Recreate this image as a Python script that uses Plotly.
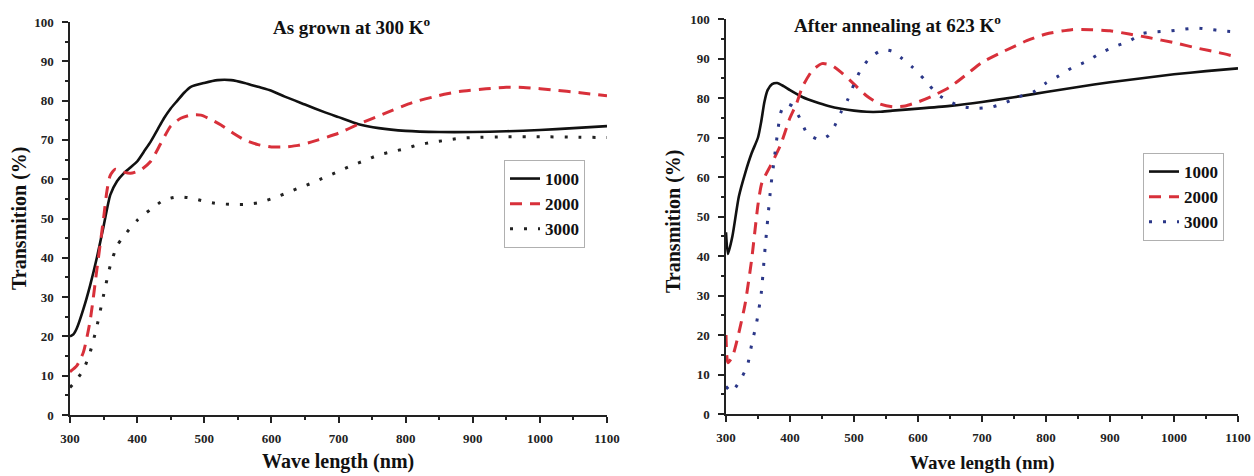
import plotly.graph_objects as go

# ---------------- data: As grown at 300 K ----------------
a_x_1000 = [300, 305, 310, 320, 330, 340, 350, 360, 370, 380, 390, 400, 410, 420, 430, 440, 450, 460, 470, 480,
            500, 520, 540, 560, 580, 600, 620, 650, 680, 700, 730, 760, 800, 850, 900, 950, 1000, 1050, 1100]
a_y_1000 = [20, 20.5, 22, 27, 33, 40, 48, 56, 59.5, 61.5, 63, 64.5, 67, 69.5, 72.5, 75.5, 78, 80, 82, 83.5,
            84.5, 85.2, 85.2, 84.5, 83.5, 82.5, 81, 79, 77, 75.8, 74, 73, 72.3, 72, 72, 72.2, 72.5, 73, 73.5]

a_x_2000 = [300, 310, 320, 330, 340, 350, 355, 360, 367, 375, 390, 405, 420, 435, 450, 465, 480, 495, 510, 525,
            545, 560, 580, 600, 620, 640, 660, 700, 730, 770, 810, 850, 880, 920, 950, 980, 1020, 1060, 1100]
a_y_2000 = [11, 12.5, 16, 24, 37, 50, 57, 61, 62.5, 62, 61.5, 62.3, 64.5, 69, 73.5, 75.5, 76.3, 76.3, 75.2, 73.8,
            71.5, 70, 68.8, 68.2, 68.2, 68.6, 69.5, 71.7, 74, 76.8, 79.5, 81.3, 82.3, 83, 83.4, 83.3, 82.7, 82, 81.2]

a_x_3000 = [300, 310, 320, 330, 340, 350, 360, 370, 380, 400, 420, 440, 460, 480, 500, 520, 540, 560, 580, 600,
            620, 640, 660, 680, 700, 720, 740, 760, 780, 800, 820, 840, 860, 880, 900, 950, 1000, 1050, 1100]
a_y_3000 = [7, 9, 11.5, 16, 22.5, 30.5, 38, 43, 45.5, 49.5, 52.3, 54.7, 55.5, 55.2, 54.4, 53.8, 53.6, 53.6, 54, 55,
            56.3, 57.7, 59, 60.5, 62, 63.5, 64.8, 66.2, 67, 67.8, 68.8, 69.4, 69.9, 70.4, 70.6, 70.8, 70.8, 70.7, 70.6]

# ---------------- data: After annealing at 623 K ----------------
b_x_1000 = [300, 303, 310, 320, 330, 340, 350, 355, 360, 365, 372, 380, 390, 400, 420, 440, 460, 480, 500, 520,
            540, 560, 600, 650, 700, 750, 800, 850, 900, 950, 1000, 1050, 1100]
b_y_1000 = [46, 40.5, 45, 55, 61, 66, 70, 74, 79, 82, 83.5, 83.8, 83, 82, 80.2, 79, 78, 77.3, 76.8, 76.5,
            76.5, 76.8, 77.3, 78, 79, 80.2, 81.5, 82.8, 84, 85, 86, 86.8, 87.5]

b_x_2000 = [300, 303, 310, 320, 330, 340, 350, 356, 370, 385, 400, 410, 420, 435, 450, 465, 480, 500, 520, 540,
            560, 580, 600, 620, 650, 680, 700, 730, 770, 800, 840, 870, 900, 930, 960, 1000, 1040, 1070, 1100]
b_y_2000 = [20, 13, 14.5, 20.5, 28, 39, 53, 58.5, 63, 68, 75, 78.5, 83, 87, 88.7, 88.3, 86.5, 83.5, 80.5, 78.5,
            77.8, 78, 79, 80.3, 82.8, 86.5, 89, 91.5, 94.5, 96.2, 97.3, 97.3, 97, 96.2, 95.3, 94, 92.5, 91.5, 90.3]

b_x_3000 = [300, 309, 320, 333, 340, 348, 355, 360, 365, 370, 375, 380, 385, 390, 397, 405, 415, 427, 447, 460,
            470, 480, 490, 500, 510, 525, 545, 560, 575, 590, 610, 630, 650, 670, 695, 715, 735, 755, 780, 800,
            820, 840, 865, 885, 910, 930, 950, 970, 995, 1015, 1035, 1055, 1075, 1100]
b_y_3000 = [7, 5.6, 8, 12, 17.5, 23.3, 30.5, 40, 49, 57.5, 64, 70.5, 76, 78, 78.5, 77.8, 75, 71, 69.4, 70.5,
            73, 76.5, 79.5, 83.5, 87, 90.2, 92.2, 91.8, 90, 88, 84.7, 81, 79, 77.8, 77.4, 77.7, 78.7, 80.2, 81.5, 83.8,
            85.6, 87.6, 89.4, 91.4, 93.2, 94.4, 96.3, 96.7, 97, 97.4, 97.7, 97.4, 97, 96.7]

series_names = ["1000", "2000", "3000"]
x_ticks = [300, 400, 500, 600, 700, 800, 900, 1000, 1100]
y_ticks = [0, 10, 20, 30, 40, 50, 60, 70, 80, 90, 100]
titles = ["As grown at 300 K<sup>o</sup>", "After annealing at 623 K<sup>o</sup>"]

SERIF = "Liberation Serif, Times New Roman, serif"
RED = "#d8303a"

fig = go.Figure()

def add_panel(xs, ys, xa, ya, legend, dot_color):
    styles = [dict(color="#111111", width=2.6, dash="solid"),
              dict(color=RED, width=3, dash="12px,8px"),
              dict(color=dot_color, width=3, dash="3px,11px")]
    for name, x, y, st in zip(series_names, xs, ys, styles):
        fig.add_trace(go.Scatter(x=x, y=y, mode="lines", name=name, line=dict(shape="spline", smoothing=0.6, **st),
                                 xaxis=xa, yaxis=ya, legend=legend))

add_panel([a_x_1000, a_x_2000, a_x_3000], [a_y_1000, a_y_2000, a_y_3000], "x", "y", "legend", "#222222")
add_panel([b_x_1000, b_x_2000, b_x_3000], [b_y_1000, b_y_2000, b_y_3000], "x2", "y2", "legend2", "#2b3788")

W, H = 1254, 476

def xaxis(domain, anchor):
    return dict(domain=domain, anchor=anchor, range=[300, 1100], tickvals=x_ticks, ticks="outside", ticklen=6,
                tickwidth=1.5, tickcolor="#222", showline=True, linecolor="#222", linewidth=1.5, showgrid=False,
                zeroline=False, automargin=False, ticklabelstandoff=5,
                tickfont=dict(family=SERIF, size=13, color="#222", weight="bold"),
                minor=dict(tickvals=[350, 450, 550, 650, 750, 850, 950, 1050], ticks="outside", ticklen=3,
                           tickcolor="#222", showgrid=False))

def yaxis(domain, anchor):
    return dict(domain=domain, anchor=anchor, range=[0, 100], tickvals=y_ticks, ticks="outside", ticklen=6,
                tickwidth=1.5, tickcolor="#222", showline=True, linecolor="#222", linewidth=1.5, showgrid=False,
                zeroline=False, automargin=False, ticklabelstandoff=6,
                tickfont=dict(family=SERIF, size=13, color="#222", weight="bold"),
                minor=dict(dtick=5, ticks="outside", ticklen=3, tickcolor="#222", showgrid=False))

legend_common = dict(font=dict(family=SERIF, size=17, color="#111", weight="bold"), bgcolor="white",
                     bordercolor="#b0b0b0", borderwidth=1, xanchor="left", yanchor="top", tracegroupgap=0,
                     itemwidth=30)

fig.update_layout(
    width=W, height=H, margin=dict(l=0, r=0, t=0, b=0),
    paper_bgcolor="white", plot_bgcolor="white",
    xaxis=xaxis([70 / W, 607 / W], "y"),
    yaxis=yaxis([1 - 415 / H, 1 - 22 / H], "x"),
    xaxis2=xaxis([726 / W, 1238 / W], "y2"),
    yaxis2=yaxis([1 - 414 / H, 1 - 19 / H], "x2"),
    legend=dict(x=504 / W, y=1 - 160 / H, **legend_common),
    legend2=dict(x=1143 / W, y=1 - 153 / H, **legend_common),
)

ann_font = dict(family=SERIF, size=19, color="#111", weight="bold")
axt_font = dict(family=SERIF, size=20, color="#111", weight="bold")
axt_font2 = dict(family=SERIF, size=19, color="#111", weight="bold")

def ann(text, x, y, font, angle=0):
    return dict(text=text, x=x / W, y=1 - y / H, xref="paper", yref="paper", showarrow=False,
                xanchor="center", yanchor="middle", textangle=angle, font=font)

annotations = [
    ann(titles[0], 352, 26, ann_font),
    ann(titles[1], 897, 24, ann_font),
    ann("Wave length (nm)", 338, 461, axt_font),
    ann("Wave length (nm)", 982, 463, axt_font2),
    ann("Transmition (%)", 20, 218, axt_font, -90),
    ann("Transmition (%)", 673, 221, axt_font, -90),
]
fig.update_layout(annotations=annotations)

fig.write_html("out.html", config={"displayModeBar": False},
               post_script="document.body.style.margin='0';document.body.style.overflow='hidden';")
